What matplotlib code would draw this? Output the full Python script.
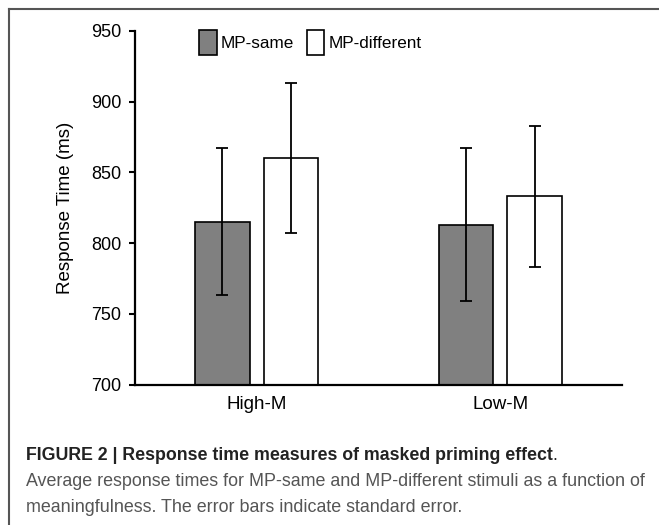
import matplotlib
matplotlib.use("Agg")
import matplotlib.pyplot as plt
from matplotlib.patches import Patch
from matplotlib.lines import Line2D
import numpy as np

plt.rcParams['font.family'] = ['Liberation Sans', 'DejaVu Sans']

categories = ["High-M", "Low-M"]
series_names = ["MP-same", "MP-different"]
same_means = [815, 813]
same_err = [52, 54]
diff_means = [860, 833]
diff_err = [53, 50]
yticks = [700, 750, 800, 850, 900, 950]

fig = plt.figure(figsize=(6.59, 5.25), dpi=100)
W, H = 659, 525
ax = fig.add_axes([135 / W, 1 - 384.7 / H, (622 - 135) / W, (384.7 - 30.7) / H])

x = np.arange(len(categories))
bw = 0.225
off = 0.141
ekw = dict(ecolor='black', elinewidth=1.3, capsize=4, capthick=1.3)
ax.bar(x - off, same_means, bw, color='#808080', edgecolor='black', linewidth=1.2,
       yerr=same_err, error_kw=ekw, zorder=2)
ax.bar(x + off, diff_means, bw, color='white', edgecolor='black', linewidth=1.2,
       yerr=diff_err, error_kw=ekw, zorder=2)

ax.set_xlim(-0.5, 1.5)
ax.set_ylim(700, 950)
ax.set_yticks(yticks)
ax.set_yticklabels([str(v) for v in yticks], fontsize=13)
ax.set_xticks(x)
ax.set_xticklabels(categories, fontsize=13.5)
ax.tick_params(axis='x', length=0, pad=8)
ax.tick_params(axis='y', length=4, width=1.5, pad=6)
for s in ['top', 'right']:
    ax.spines[s].set_visible(False)
for s in ['left', 'bottom']:
    ax.spines[s].set_linewidth(1.6)
ax.set_ylabel("Response Time (ms)", fontsize=13.5, labelpad=12)

handles = [Patch(facecolor='#808080', edgecolor='black', linewidth=1.2),
           Patch(facecolor='white', edgecolor='black', linewidth=1.2)]
ax.legend(handles, series_names, ncol=2, frameon=False, fontsize=12.3,
          loc='center', bbox_to_anchor=(310.5 / W, 1 - 42.5 / H), bbox_transform=fig.transFigure,
          handlelength=1.0, handleheight=1.95, handletextpad=0.25, columnspacing=0.75,
          borderpad=0)

# border lines (top and left)
fig.add_artist(Line2D([9 / W, 1.0], [1 - 8.5 / H, 1 - 8.5 / H], transform=fig.transFigure,
                      color='#555555', linewidth=1.5))
fig.add_artist(Line2D([9 / W, 9 / W], [1 - 8.5 / H, 0.0], transform=fig.transFigure,
                      color='#555555', linewidth=1.5))

# caption
title = fig.text(26 / W, 1 - 455 / H, "FIGURE 2 | Response time measures of masked priming effect",
                 fontsize=12.75, fontweight='bold', color='#222222', va='center', ha='left')
fig.canvas.draw()
bb = title.get_window_extent(renderer=fig.canvas.get_renderer())
fig.text(bb.x1 / W, 1 - 455 / H, ".", fontsize=12.75, color='#222222', va='center', ha='left')
fig.text(26 / W, 1 - 482 / H,
         "Average response times for MP-same and MP-different stimuli as a function of",
         fontsize=12.9, color='#555555', va='center', ha='left')
fig.text(26 / W, 1 - 508 / H,
         "meaningfulness. The error bars indicate standard error.",
         fontsize=12.9, color='#555555', va='center', ha='left')

fig.savefig("out.png", dpi=100)
